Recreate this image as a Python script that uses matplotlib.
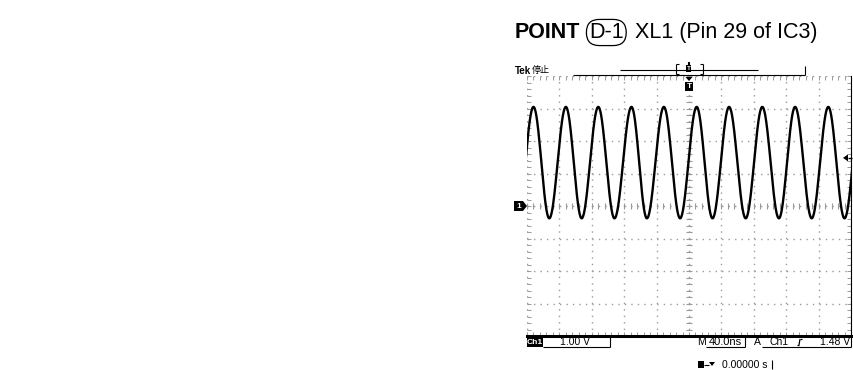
import numpy as np
import matplotlib
matplotlib.use("Agg")
import matplotlib.pyplot as plt
from matplotlib.lines import Line2D
from matplotlib.patches import Polygon, Rectangle

# scope settings
volts_per_div = 1.00
ns_per_div = 40.0
trig_level = 1.48

# extrema of the Ch1 trace, time in ns from trigger, level in volts
peak_t = [-192, -152, -112, -71, -31, 9.5, 49.5, 90.5, 131, 172, 212.5]
peak_v = [3.05, 3.05, 3.05, 3.05, 3.05, 3.05, 3.05, 3.05, 3.05, 3.05, 3.05]
trough_t = [-212, -172.5, -132.5, -92, -52, -11, 29, 70, 111, 151.5, 192]
trough_v = [-0.38, -0.38, -0.38, -0.38, -0.38, -0.38, -0.38, -0.38, -0.38, -0.38, -0.38]

title_bold = "POINT"
title_tag = "D-1"
title_rest = "XL1 (Pin 29 of IC3)"

W, H = 854, 370
SANS = "Liberation Sans"
GRAY = "#9a9a9a"


def P(x, y):
    return x / W, 1 - y / H


def line(fig, x0, y0, x1, y1, lw=0.8, color="black"):
    fig.add_artist(Line2D([x0 / W, x1 / W], [1 - y0 / H, 1 - y1 / H],
                          transform=fig.transFigure, lw=lw, color=color,
                          solid_capstyle="butt"))


def poly(fig, pts, color="black"):
    fig.add_artist(Polygon([P(x, y) for x, y in pts], closed=True,
                           transform=fig.transFigure, fc=color, ec="none"))


fig = plt.figure(figsize=(W / 100, H / 100), dpi=100)

# title
fig.text(*P(515, 38), title_bold, fontsize=15.5, fontweight="bold", family=SANS)
fig.text(*P(589, 38), title_tag, fontsize=15.5, family=SANS,
         bbox=dict(boxstyle="round,pad=0.12,rounding_size=0.6", fc="none", ec="black", lw=0.9))
fig.text(*P(635, 38), title_rest, fontsize=15.5, family=SANS)

# scope screen
ax = fig.add_axes([527 / W, 1 - 336 / H, 324 / W, 260 / H])
xmax = 5 * ns_per_div
ymax = 4 * volts_per_div
ax.set_xlim(-xmax, xmax)
ax.set_ylim(-ymax, ymax)
ax.set_xticks(np.arange(-xmax, xmax + 1, ns_per_div))
ax.set_yticks(np.arange(-ymax, ymax + 0.01, volts_per_div))
ax.set_xticks(np.arange(-xmax, xmax + 1, ns_per_div / 5), minor=True)
ax.set_yticks(np.arange(-ymax, ymax + 0.01, volts_per_div / 5), minor=True)
ax.tick_params(which="both", direction="in", length=3, width=0.7, color=GRAY,
               top=True, right=True, labelbottom=False, labelleft=False)
ax.grid(True, which="major", color=GRAY, linestyle=(0, (1, 3.67)), linewidth=1)
for s in ["left", "top"]:
    ax.spines[s].set_visible(False)
ax.spines["bottom"].set_linewidth(2.2)
ax.spines["right"].set_linewidth(0.8)

# center graticule ticks
xt = np.arange(-xmax, xmax + 1, ns_per_div / 5)
yt = np.arange(-ymax, ymax + 0.01, volts_per_div / 5)
ax.plot(xt, np.zeros_like(xt), linestyle="none", marker="|", ms=5, mew=0.8, color=GRAY)
ax.plot(np.zeros_like(yt), yt, linestyle="none", marker="_", ms=5, mew=0.8, color=GRAY)

# Ch1 trace from the read extrema
ext_t = np.array(peak_t + trough_t)
ext_v = np.array(peak_v + trough_v)
order = np.argsort(ext_t)
ext_t, ext_v = ext_t[order], ext_v[order]
tt, vv = [], []
for i in range(len(ext_t) - 1):
    s = np.linspace(0, 1, 40)
    tt.append(ext_t[i] + (ext_t[i + 1] - ext_t[i]) * s)
    vv.append(ext_v[i] + (ext_v[i + 1] - ext_v[i]) * (1 - np.cos(np.pi * s)) / 2)
ax.plot(np.concatenate(tt), np.concatenate(vv), color="black", lw=1.7)

# top bar
fig.text(*P(515, 71), "Tek", fontsize=7, fontweight="bold", family=SANS, va="center")
fig.text(*P(532, 71), "停止", fontsize=6.5, family="Noto Sans CJK JP", va="center")
line(fig, 573, 75, 805, 75)
line(fig, 805, 75.4, 805, 66)
line(fig, 620, 69.5, 758, 69.5)
for bx, d in [(676, 3), (703, -3)]:
    line(fig, bx, 64, bx, 73.5)
    line(fig, bx, 64, bx + d, 64)
    line(fig, bx, 73.5, bx + d, 73.5)
fig.add_artist(Rectangle(P(686.5, 72), 5 / W, 7 / H, transform=fig.transFigure, fc="black"))
fig.text(*P(689, 68.5), "T", fontsize=4.5, color="white", fontweight="bold",
         family=SANS, ha="center", va="center")
line(fig, 689, 62, 689, 64.5, lw=1.5)

# trigger position marker
poly(fig, [(685.5, 77), (692.5, 77), (689, 81)])
fig.add_artist(Rectangle(P(685, 91), 8 / W, 9 / H, transform=fig.transFigure, fc="black"))
fig.text(*P(689, 86.5), "T", fontsize=6, color="white", fontweight="bold",
         family=SANS, ha="center", va="center")

# ground marker for Ch1
gy = H - ax.transData.transform((0, 0))[1]
poly(fig, [(514, gy - 5), (523, gy - 5), (527, gy), (523, gy + 5), (514, gy + 5)])
fig.text(*P(519, gy), "1", fontsize=6, color="white", fontweight="bold",
         family=SANS, ha="center", va="center")

# trigger level marker
ty = H - ax.transData.transform((0, trig_level))[1]
poly(fig, [(843, ty), (848, ty - 3.5), (848, ty + 3.5)])
line(fig, 848, ty, 852, ty, lw=1)

# status bar
fig.add_artist(Rectangle(P(527, 347), 16 / W, 10 / H, transform=fig.transFigure, fc="black"))
fig.text(*P(535, 342), "Ch1", fontsize=6, color="white", fontweight="bold",
         family=SANS, ha="center", va="center")
fig.text(*P(560, 342), "%.2f V" % volts_per_div, fontsize=7.5, family=SANS, va="center")
line(fig, 543, 347, 610, 347)
line(fig, 610, 336, 610, 347)
fig.text(*P(697, 342), "M", fontsize=7.5, family=SANS, va="center")
fig.text(*P(709, 342), "%.1fns" % ns_per_div, fontsize=8, family=SANS, va="center")
line(fig, 706, 347, 745, 347)
line(fig, 745, 336, 745, 347)
fig.text(*P(754, 342), "A", fontsize=7.5, family=SANS, va="center")
fig.text(*P(770, 342), "Ch1", fontsize=7.5, family=SANS, va="center")
line(fig, 797, 345, 799, 345, lw=0.9)
line(fig, 799, 345, 800, 339, lw=0.9)
line(fig, 800, 339, 802, 339, lw=0.9)
fig.text(*P(820, 342), "%.2f V" % trig_level, fontsize=7.5, family=SANS, va="center")
line(fig, 762, 347, 851, 347)
line(fig, 851, 336, 851, 347)

# second row
fig.add_artist(Rectangle(P(698, 368), 6 / W, 7 / H, transform=fig.transFigure, fc="black"))
line(fig, 704, 364.5, 709, 364.5)
poly(fig, [(709, 362), (715, 362), (712, 366)])
fig.text(*P(722, 365), "0.00000 s", fontsize=7.5, family=SANS, va="center")
line(fig, 772, 360, 772, 369)

fig.savefig("out.png", dpi=100)
